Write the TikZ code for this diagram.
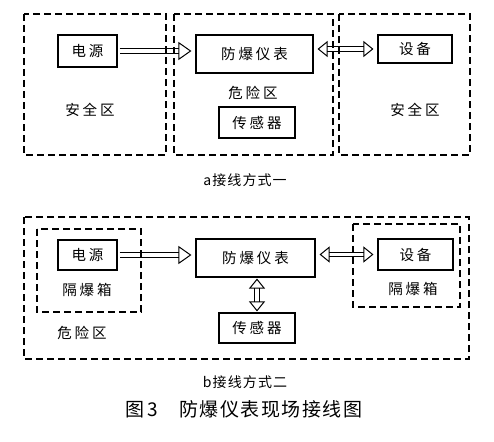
\documentclass[tikz,border=0pt]{standalone}
\usepackage{fontspec}
\setmainfont{Noto Sans CJK SC}
\newfontfamily\boxfont[LetterSpace=20]{Noto Sans CJK SC}
\newfontfamily\capfont[LetterSpace=8]{Noto Sans CJK SC}
\usepackage{tikz}
\usetikzlibrary{arrows.meta}

\begin{document}
\begin{tikzpicture}[x=1pt,y=-1pt,
	unit/.style={draw,line width=1.1pt,inner sep=0pt,font=\fontsize{14.5}{16}\boxfont},
	zone/.style={line width=1.1pt,dash pattern=on 7pt off 4pt},
	zonelabel/.style={font=\fontsize{14.5}{16}\boxfont},
	hollow/.style={double,double distance=3.8pt,line width=1pt,shorten <=2pt,shorten >=4pt,-{Triangle[open,length=13pt,width=18pt]}},
	hollowboth/.style={double,double distance=3.8pt,line width=1pt,shorten <=4pt,shorten >=4pt,{Triangle[open,length=10pt,width=16pt]}-{Triangle[open,length=10pt,width=16pt]}}]
	\useasboundingbox (0,0) rectangle (494,441);
	% a: first wiring
	\node[unit,minimum width=59pt,minimum height=32pt] (psuA) at (87.5,51) {电源};
	\node[unit,minimum width=117pt,minimum height=38pt] (instA) at (254.5,54) {防爆仪表};
	\node[unit,minimum width=76pt,minimum height=31pt] (sensA) at (257,122.5) {传感器};
	\node[unit,minimum width=74pt,minimum height=28pt] (devA) at (415,49) {设备};
	\node[zonelabel] (safeA1) at (90,110) {安全区};
	\node[zonelabel] (hazA) at (253,93) {危险区};
	\node[zonelabel] (safeA2) at (415,110) {安全区};
	\draw[hollow] (psuA.east) -- (psuA.east -| instA.west);
	\draw[hollowboth] (devA.west -| instA.east) -- (devA.west);
	\draw[zone] (24,14) rectangle (166,155);
	\draw[zone] (174,14) rectangle (333,155);
	\draw[zone] (339,14) rectangle (470,155);
	\node[font=\fontsize{14}{16}\capfont] (capA) at (245,180) {a接线方式一};
	% b: second wiring
	\node[unit,minimum width=59pt,minimum height=30pt] (psuB) at (87.5,255) {电源};
	\node[unit,minimum width=119pt,minimum height=38pt] (instB) at (255.5,258) {防爆仪表};
	\node[unit,minimum width=76pt,minimum height=30pt] (sensB) at (257,328) {传感器};
	\node[unit,minimum width=75pt,minimum height=31pt] (devB) at (415.5,254.5) {设备};
	\node[zonelabel] (boxB1) at (87,290) {隔爆箱};
	\node[zonelabel] (boxB2) at (413,289) {隔爆箱};
	\node[zonelabel] (hazB) at (82,333) {危险区};
	\draw[hollow] (psuB.east) -- (psuB.east -| instB.west);
	\draw[hollowboth] (devB.west -| instB.east) -- (devB.west);
	\draw[hollowboth,shorten <=1pt,shorten >=1pt] (instB.south -| sensB.north) -- (sensB.north);
	\draw[zone] (24,217) rectangle (469,359);
	\draw[zone] (37,229) rectangle (141,312);
	\draw[zone] (353,224) rectangle (460,307);
	\node[font=\fontsize{14}{16}\capfont] (capB) at (245,382) {b接线方式二};
	\node[font=\fontsize{19}{21}\capfont] (title) at (244,409) {图\,3\hspace{1.1em}防爆仪表现场接线图};
\end{tikzpicture}
\end{document}
